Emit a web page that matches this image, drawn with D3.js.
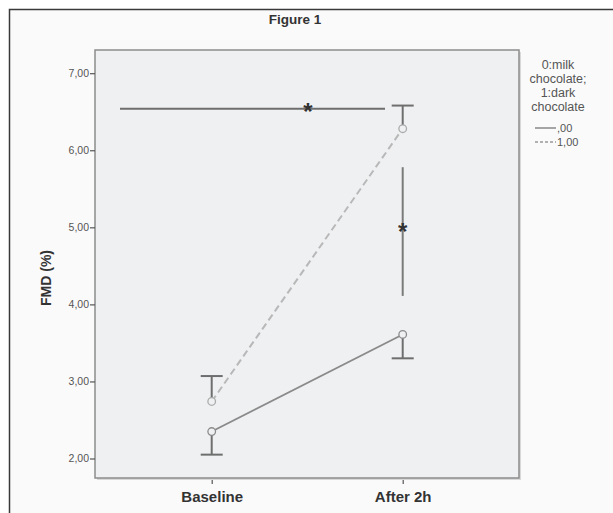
<!DOCTYPE html>
<html>
<head>
<meta charset="utf-8">
<script src="https://cdn.jsdelivr.net/npm/d3@7"></script>
<style>
  body { margin: 0; background: #fff; }
  svg text { font-family: "Liberation Sans", Arial, sans-serif; }
</style>
</head>
<body>
<svg id="chart"></svg>
<script>
// data
var times = ["Baseline", "After 2h"];
var groups = [",00", "1,00"];
var milkMeans = [2.35, 3.61];
var darkMeans = [2.74, 6.28];
var milkLower = [2.05, 3.30];   // only the lower whisker is drawn for milk
var darkUpper = [3.07, 6.58];   // only the upper whisker is drawn for dark
var yTicks = [2, 3, 4, 5, 6, 7];
var sigH = { y: 6.54 };
var sigV = { t: 1, lo: 4.11, hi: 5.78, star: 4.98 };

var width = 613, height = 513;
var plot = { left: 95, top: 50, right: 519, bottom: 478 };

var svg = d3.select("#chart").attr("width", width).attr("height", height);

// outer frame
svg.append("rect").attr("x", 9.5).attr("y", 9.5)
   .attr("width", 620).attr("height", 520)
   .attr("fill", "#fafafa").attr("stroke", "#3a3a3a").attr("stroke-width", 1.5);

// title
svg.append("text").attr("x", 295).attr("y", 24)
   .attr("text-anchor", "middle").attr("font-size", 13.5).attr("font-weight", "bold")
   .attr("fill", "#333").text("Figure 1");

// scales
var x = d3.scalePoint().domain(times).range([211.7, 402.7]);
var y = d3.scaleLinear().domain([2, 7]).range([458.5, 73.2]);

// plot area with shadow
svg.append("rect").attr("x", plot.left + 2).attr("y", plot.top + 2)
   .attr("width", plot.right - plot.left).attr("height", plot.bottom - plot.top)
   .attr("fill", "#d8d8d8");
svg.append("rect").attr("x", plot.left).attr("y", plot.top)
   .attr("width", plot.right - plot.left).attr("height", plot.bottom - plot.top)
   .attr("fill", "#eff0f2").attr("stroke", "#8c8c8c").attr("stroke-width", 1.5);

// y axis
var yAxis = svg.append("g").attr("transform", "translate(" + plot.left + ",0)")
   .call(d3.axisLeft(y).tickValues(yTicks).tickSize(5)
   .tickFormat(function(d) { return d3.format(".2f")(d).replace(".", ","); }));
yAxis.select(".domain").remove();
yAxis.selectAll(".tick line").attr("stroke", "#555").attr("stroke-width", 1.2);
yAxis.selectAll(".tick text").attr("font-size", 10.5).attr("fill", "#555")
   .attr("font-family", "Liberation Sans, Arial, sans-serif").attr("x", -6);

// x axis
var xAxis = svg.append("g").attr("transform", "translate(0," + plot.bottom + ")")
   .call(d3.axisBottom(x).tickSize(6).tickPadding(7));
xAxis.select(".domain").remove();
xAxis.selectAll(".tick line").attr("stroke", "#555").attr("stroke-width", 1.2)
   .attr("y1", 2);
xAxis.selectAll(".tick text").attr("font-size", 15).attr("font-weight", "bold")
   .attr("fill", "#333").attr("font-family", "Liberation Sans, Arial, sans-serif");

// y label
svg.append("text").attr("transform", "translate(51,278) rotate(-90)")
   .attr("text-anchor", "middle").attr("font-size", 14).attr("font-weight", "bold")
   .attr("fill", "#333").text("FMD (%)");

var line = d3.line().x(function(d, i) { return x(times[i]); }).y(function(d) { return y(d); });

// error bars
var capW = 11;
function whisker(t, from, to) {
  svg.append("line").attr("x1", x(t)).attr("x2", x(t))
     .attr("y1", y(from)).attr("y2", y(to))
     .attr("stroke", "#6e6e6e").attr("stroke-width", 2);
  svg.append("line").attr("x1", x(t) - capW).attr("x2", x(t) + capW)
     .attr("y1", y(to)).attr("y2", y(to))
     .attr("stroke", "#6e6e6e").attr("stroke-width", 2);
}
times.forEach(function(t, i) {
  whisker(t, milkMeans[i], milkLower[i]);
  whisker(t, darkMeans[i], darkUpper[i]);
});

// series lines
svg.append("path").datum(darkMeans).attr("d", line)
   .attr("fill", "none").attr("stroke", "#b8b8b8").attr("stroke-width", 2)
   .attr("stroke-dasharray", "7,4");
svg.append("path").datum(milkMeans).attr("d", line)
   .attr("fill", "none").attr("stroke", "#8a8a8a").attr("stroke-width", 1.8);

// markers
[milkMeans, darkMeans].forEach(function(arr, k) {
  svg.selectAll(null).data(arr).enter().append("circle")
     .attr("cx", function(d, i) { return x(times[i]); })
     .attr("cy", function(d) { return y(d); })
     .attr("r", 3.8).attr("fill", "#eff0f2")
     .attr("stroke", k === 0 ? "#8a8a8a" : "#aaaaaa").attr("stroke-width", 1.3);
});

// significance markers
svg.append("line").attr("x1", 120).attr("x2", 385)
   .attr("y1", y(sigH.y)).attr("y2", y(sigH.y))
   .attr("stroke", "#6e6e6e").attr("stroke-width", 2);
svg.append("text").attr("x", 308).attr("y", y(sigH.y) + 11)
   .attr("text-anchor", "middle").attr("font-size", 24).attr("font-weight", "bold")
   .attr("fill", "#333").text("*");
svg.append("line").attr("x1", x(times[sigV.t])).attr("x2", x(times[sigV.t]))
   .attr("y1", y(sigV.hi)).attr("y2", y(sigV.lo))
   .attr("stroke", "#7a7a7a").attr("stroke-width", 2);
svg.append("text").attr("x", x(times[sigV.t])).attr("y", y(sigV.star) + 11)
   .attr("text-anchor", "middle").attr("font-size", 24).attr("font-weight", "bold")
   .attr("fill", "#333").text("*");

// legend
var legTitle = ["0:milk", "chocolate;", "1:dark", "chocolate"];
svg.selectAll(null).data(legTitle).enter().append("text")
   .attr("x", 558).attr("y", function(d, i) { return 69 + i * 14; })
   .attr("text-anchor", "middle").attr("font-size", 12.5).attr("fill", "#555")
   .text(function(d) { return d; });
groups.forEach(function(g, i) {
  var yy = 128 + i * 14;
  svg.append("line").attr("x1", 535).attr("x2", 556).attr("y1", yy).attr("y2", yy)
     .attr("stroke", i === 0 ? "#777" : "#999").attr("stroke-width", 1.3)
     .attr("stroke-dasharray", i === 0 ? null : "3,2");
  svg.append("text").attr("x", 557).attr("y", yy + 4)
     .attr("font-size", 11).attr("fill", "#555").text(g);
});
</script>
</body>
</html>
